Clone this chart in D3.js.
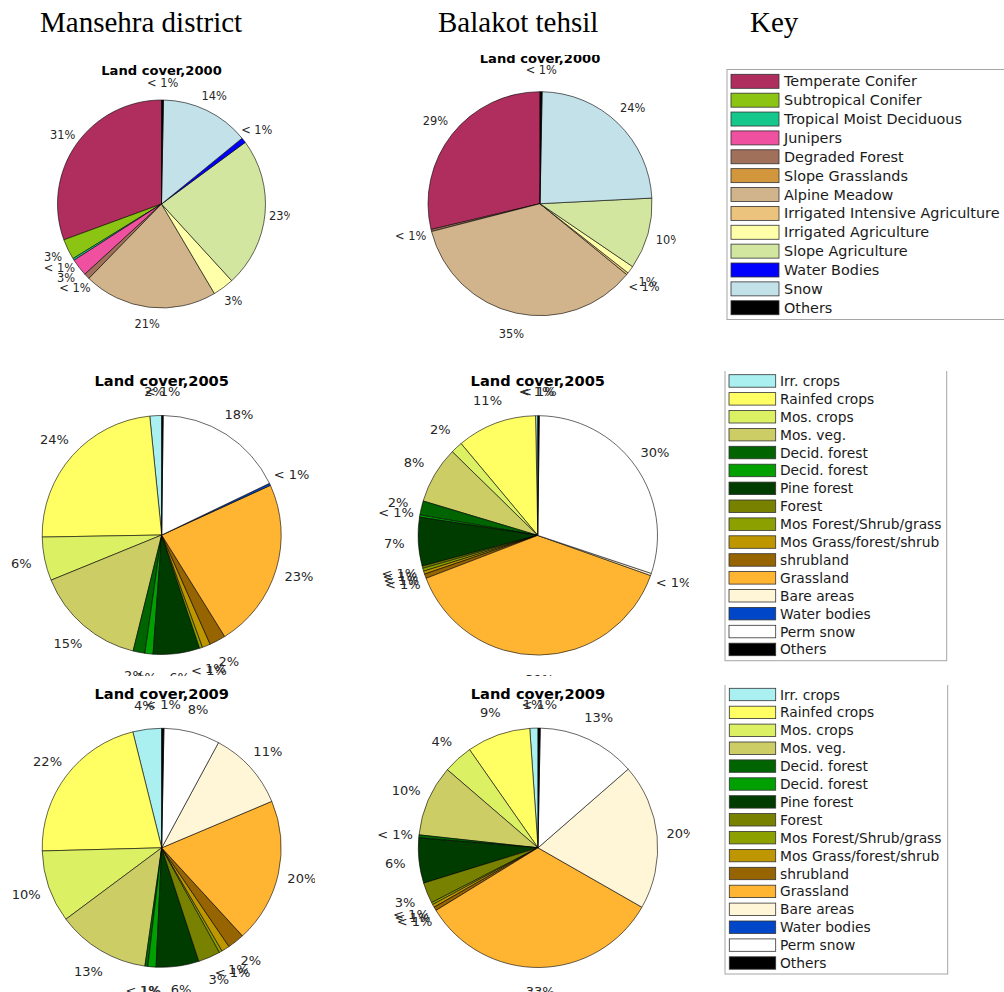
<!DOCTYPE html>
<html>
<head>
<meta charset="utf-8">
<script src="https://cdn.jsdelivr.net/npm/d3@7"></script>
<style>
  body { margin: 0; background: #fff; }
  svg { display: block; }
</style>
</head>
<body>
<div id="chart"></div>
<script>
// key 1 (2000 maps)
var key1Names = ["Temperate Conifer", "Subtropical Conifer", "Tropical Moist Deciduous", "Junipers",
    "Degraded Forest", "Slope Grasslands", "Alpine Meadow", "Irrigated Intensive Agriculture",
    "Irrigated Agriculture", "Slope Agriculture", "Water Bodies", "Snow", "Others"];
var key1Colors = ["#b02e5e", "#8cc414", "#14c88c", "#f050a0", "#a0705a", "#d2963c", "#d2b48c",
    "#ebc37d", "#ffffaa", "#d2e6a0", "#0000ff", "#c3e1e9", "#000000"];
var mansehra2000 = [30.6, 3.2, 0.3, 2.7, 0.9, 0, 20.8, 0, 3.3, 23.3, 0.8, 13.8, 0.3];
var balakot2000 = [28.7, 0, 0, 0, 0.3, 0, 35.1, 0.3, 1.1, 10.3, 0, 23.9, 0.3];

// key 2 (2005 / 2009 maps)
var key2Names = ["Irr. crops", "Rainfed crops", "Mos. crops", "Mos. veg.", "Decid. forest", "Decid. forest",
    "Pine forest", "Forest", "Mos Forest/Shrub/grass", "Mos Grass/forest/shrub", "shrubland",
    "Grassland", "Bare areas", "Water bodies", "Perm snow", "Others"];
var key2Colors = ["#aaf0f0", "#ffff64", "#dcf064", "#cdcd66", "#006400", "#00a000", "#003c00",
    "#788200", "#8ca000", "#be9600", "#966400", "#ffb432", "#fff5d7", "#0046c8", "#ffffff", "#000000"];
var mansehra2005 = [1.6, 23.7, 5.9, 15.0, 1.6, 1.1, 6.3, 0, 0.4, 1.1, 2.2, 23.0, 0, 0.3, 17.7, 0.2];
var balakot2005 = [0.3, 10.8, 1.6, 7.7, 1.9, 0.3, 6.6, 0.3, 0.4, 0.4, 0.6, 38.8, 0.3, 0, 30.0, 0.2];
var mansehra2009 = [3.9, 21.6, 9.8, 12.6, 0.4, 1.1, 5.8, 3.0, 0.4, 1.1, 2.3, 19.6, 10.8, 0, 7.6, 0.3];
var balakot2009 = [1.1, 8.6, 4.0, 9.6, 0.4, 0, 6.1, 2.8, 0.3, 0.4, 0.5, 33.0, 19.7, 0, 13.3, 0.3];

var svg = d3.select("#chart")
    .append("svg")
    .attr("width", 1004)
    .attr("height", 992);

svg.append("rect").attr("width", 1004).attr("height", 992).attr("fill", "#fff");

// column headings
var headings = [["Mansehra district", 40], ["Balakot tehsil", 438], ["Key", 750]];
svg.selectAll(".heading")
    .data(headings)
    .enter()
    .append("text")
    .attr("class", "heading")
    .attr("x", function(d) { return d[1]; })
    .attr("y", 32)
    .attr("font-family", "Liberation Serif")
    .attr("font-size", "29px")
    .attr("fill", "#000")
    .text(function(d) { return d[0]; });

var panels = [
    {values: mansehra2000, colors: key1Colors, title: "Land cover,2000", cx: 161.5, cy: 204, r: 104, lr: 1.16,
        ty: 75, tsize: 13.1, lsize: 11.4, clip: [0, 55, 290, 345]},
    {values: balakot2000, colors: key1Colors, title: "Land cover,2000", cx: 540, cy: 203.7, r: 112, lr: 1.19,
        ty: 63, tsize: 13.1, lsize: 11.4, clip: [370, 55, 676, 345]},
    {values: mansehra2005, colors: key2Colors, title: "Land cover,2005", cx: 161.7, cy: 535, r: 119.5, lr: 1.2,
        ty: 386, tsize: 14.6, lsize: 13, clip: [0, 360, 315, 676]},
    {values: balakot2005, colors: key2Colors, title: "Land cover,2005", cx: 537.8, cy: 535.4, r: 119.7, lr: 1.2,
        ty: 386, tsize: 14.6, lsize: 13, clip: [350, 360, 689, 676]},
    {values: mansehra2009, colors: key2Colors, title: "Land cover,2009", cx: 161.7, cy: 847.8, r: 119.5, lr: 1.2,
        ty: 699, tsize: 14.6, lsize: 13, clip: [0, 678, 315, 992]},
    {values: balakot2009, colors: key2Colors, title: "Land cover,2009", cx: 538, cy: 847.8, r: 119.7, lr: 1.2,
        ty: 699, tsize: 14.6, lsize: 13, clip: [350, 678, 690, 992]}
];

// matlab style: counter-clockwise from 12 o'clock, zero slices dropped
var pie = d3.pie()
    .sort(null)
    .startAngle(0)
    .endAngle(-2 * Math.PI)
    .value(function(d) { return d.v; });

function pctLabel(f) {
    if (f * 100 < 1) return "< 1%";
    return Math.round(f * 100) + "%";
}

panels.forEach(function(p, i) {
    var c = p.clip;
    svg.append("clipPath")
        .attr("id", "clip" + i)
        .append("rect")
        .attr("x", c[0]).attr("y", c[1])
        .attr("width", c[2] - c[0]).attr("height", c[3] - c[1]);

    var g = svg.append("g").attr("clip-path", "url(#clip" + i + ")");

    var items = p.values.map(function(v, k) { return {v: v, color: p.colors[k]}; })
        .filter(function(d) { return d.v > 0; });
    var total = d3.sum(items, function(d) { return d.v; });
    var arcs = pie(items);

    var arc = d3.arc().innerRadius(0).outerRadius(p.r);

    var pg = g.append("g").attr("transform", "translate(" + p.cx + "," + p.cy + ")");

    pg.selectAll("path")
        .data(arcs)
        .enter()
        .append("path")
        .attr("d", arc)
        .attr("fill", function(d) { return d.data.color; })
        .attr("stroke", "#000")
        .attr("stroke-width", 0.6)
        .attr("stroke-linejoin", "round");

    pg.selectAll("text")
        .data(arcs)
        .enter()
        .append("text")
        .attr("x", function(d) { return Math.sin((d.startAngle + d.endAngle) / 2) * p.r * p.lr; })
        .attr("y", function(d) { return -Math.cos((d.startAngle + d.endAngle) / 2) * p.r * p.lr; })
        .attr("text-anchor", "middle")
        .attr("dominant-baseline", "central")
        .attr("font-family", "DejaVu Sans")
        .attr("font-size", p.lsize + "px")
        .attr("fill", "#262626")
        .text(function(d) { return pctLabel(d.data.v / total); });

    g.append("text")
        .attr("x", p.cx)
        .attr("y", p.ty)
        .attr("text-anchor", "middle")
        .attr("font-family", "DejaVu Sans")
        .attr("font-weight", "bold")
        .attr("font-size", p.tsize + "px")
        .attr("fill", "#000")
        .text(p.title);
});

// keys
var keys = [
    {names: key1Names, colors: key1Colors, box: [727, 69.5, 1030, 319.5], clipTop: 0,
        sx: 731, sw: 48, sh: 14, y0: 74.3, step: 18.87, tx: 784, fs: 14.4},
    {names: key2Names, colors: key2Colors, box: [725, 360, 946.7, 660.7], clipTop: 371,
        sx: 729, sw: 46.7, sh: 12.5, y0: 374.7, step: 17.9, tx: 780, fs: 13.8},
    {names: key2Names, colors: key2Colors, box: [725, 678, 947.7, 974], clipTop: 685,
        sx: 729.3, sw: 46.4, sh: 12.4, y0: 688.3, step: 17.9, tx: 780, fs: 13.8}
];

keys.forEach(function(k, i) {
    var b = k.box;
    var top = k.clipTop || b[1] - 2;
    svg.append("clipPath")
        .attr("id", "kclip" + i)
        .append("rect")
        .attr("x", b[0] - 2).attr("y", top)
        .attr("width", 1004).attr("height", b[3] - top + 3);

    var g = svg.append("g").attr("clip-path", "url(#kclip" + i + ")");

    g.append("rect")
        .attr("x", b[0]).attr("y", b[1])
        .attr("width", b[2] - b[0]).attr("height", b[3] - b[1])
        .attr("fill", "#fff")
        .attr("stroke", "#a6a6a6")
        .attr("stroke-width", 1);

    var rows = g.selectAll(".row")
        .data(k.names)
        .enter()
        .append("g");

    rows.append("rect")
        .attr("x", k.sx)
        .attr("y", function(d, j) { return k.y0 + j * k.step; })
        .attr("width", k.sw)
        .attr("height", k.sh)
        .attr("fill", function(d, j) { return k.colors[j]; })
        .attr("stroke", "#333")
        .attr("stroke-width", 0.8);

    rows.append("text")
        .attr("x", k.tx)
        .attr("y", function(d, j) { return k.y0 + j * k.step + k.sh / 2; })
        .attr("dominant-baseline", "central")
        .attr("font-family", "DejaVu Sans")
        .attr("font-size", k.fs + "px")
        .attr("fill", "#1a1a1a")
        .text(function(d) { return d; });
});
</script>
</body>
</html>
